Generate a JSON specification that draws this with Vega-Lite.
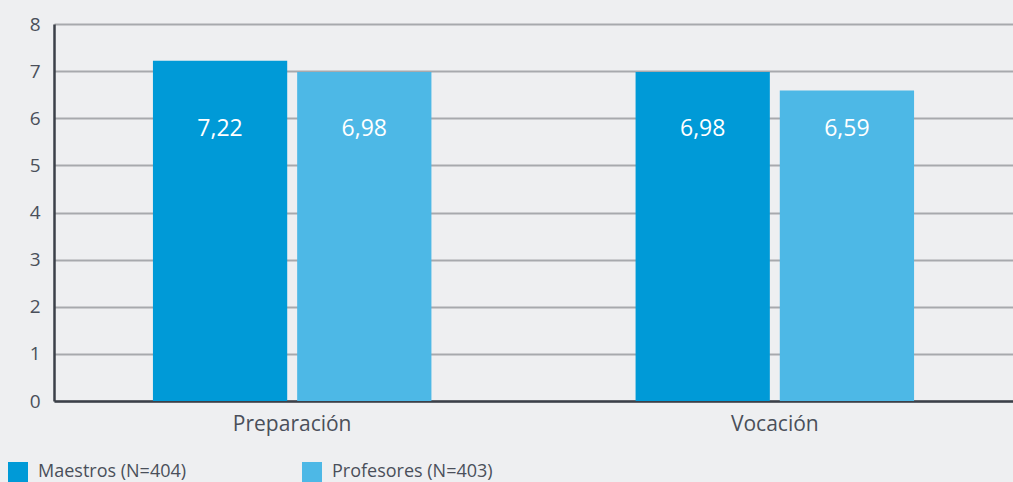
{
  "$schema": "https://vega.github.io/schema/vega-lite/v6.json",
  "width": 959,
  "height": 377,
  "autosize": {"type": "none"},
  "padding": {"left": 54, "top": 24, "right": 0, "bottom": 81},
  "background": "#eeeff1",
  "config": {
    "view": {"stroke": null},
    "font": "Open Sans",
    "axis": {"labelFont": "Open Sans", "labelColor": "#4a4f5a", "ticks": false}
  },
  "data": {
    "values": [
      {"categoria": "Preparación", "grupo": "Maestros (N=404)", "valor": 7.22, "etiqueta": "7,22"},
      {"categoria": "Preparación", "grupo": "Profesores (N=403)", "valor": 6.98, "etiqueta": "6,98"},
      {"categoria": "Vocación", "grupo": "Maestros (N=404)", "valor": 6.98, "etiqueta": "6,98"},
      {"categoria": "Vocación", "grupo": "Profesores (N=403)", "valor": 6.59, "etiqueta": "6,59"}
    ]
  },
  "encoding": {
    "x": {
      "field": "categoria", "type": "nominal", "title": null,
      "scale": {"paddingInner": 0.423, "paddingOuter": 0.205},
      "axis": {"labelAngle": 0, "labelFontSize": 21, "labelPadding": 12, "domainColor": "#3b4049", "domainWidth": 2.5, "grid": false}
    },
    "xOffset": {"field": "grupo", "type": "nominal", "scale": {"paddingInner": 0.069, "paddingOuter": 0}}
  },
  "layer": [
    {
      "mark": {"type": "bar"},
      "encoding": {
        "y": {
          "field": "valor", "type": "quantitative", "title": null,
          "scale": {"domain": [0, 8], "nice": false},
          "axis": {"values": [0,1,2,3,4,5,6,7,8], "labelFontSize": 19, "labelPadding": 14,
                   "domainColor": "#3b4049", "domainWidth": 2.5, "gridColor": "#a7a9ad", "gridWidth": 2}
        },
        "color": {
          "field": "grupo", "type": "nominal",
          "scale": {"domain": ["Maestros (N=404)", "Profesores (N=403)"], "range": ["#009ad7", "#4db8e6"]},
          "legend": {
            "title": null, "orient": "none", "legendX": -46, "legendY": 438,
            "direction": "horizontal", "columns": 2, "columnPadding": 115,
            "symbolType": "square", "symbolSize": 400, "symbolStrokeWidth": 0,
            "labelFontSize": 18, "labelColor": "#4a4f5a", "labelOffset": 10, "labelFont": "Open Sans",
            "labelLimit": 400
          }
        }
      }
    },
    {
      "mark": {"type": "text", "color": "white", "fontSize": 23, "font": "Open Sans", "baseline": "middle"},
      "encoding": {
        "y": {"datum": 5.78, "type": "quantitative", "title": null,
              "axis": {"values": [0,1,2,3,4,5,6,7,8], "labelFontSize": 19, "labelPadding": 14,
                   "domainColor": "#3b4049", "domainWidth": 2.5, "gridColor": "#a7a9ad", "gridWidth": 2}},
        "text": {"field": "etiqueta"}
      }
    }
  ]
}
